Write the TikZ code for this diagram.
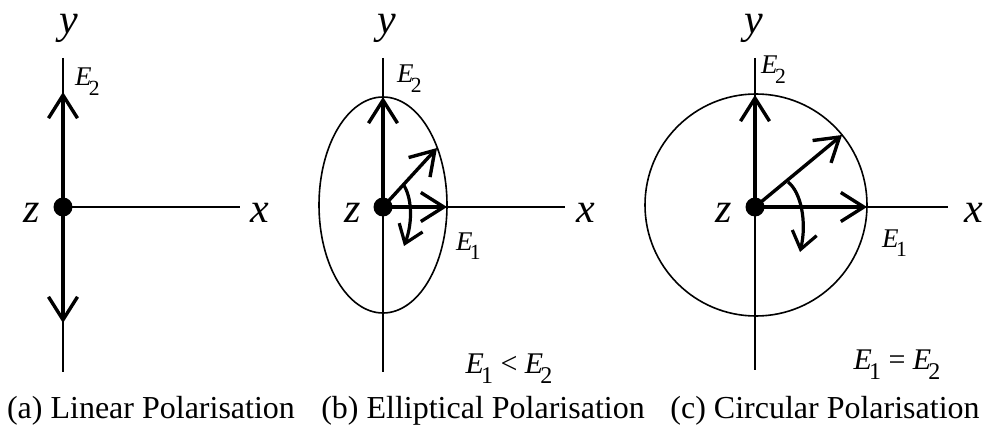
\documentclass[tikz,border=0pt]{standalone}
\usepackage{fontspec}
\setmainfont{Liberation Serif}
\usetikzlibrary{arrows.meta}
\newcommand\Ev[1]{\textit{E}\kern-0.1em\raisebox{-0.34em}{\scalebox{0.8}{#1}}}
\tikzset{
  axis/.style={line width=1.6pt},
  curveline/.style={line width=1.6pt},
  vec/.style={line width=3.4pt, -{Straight Barb[length=23pt,width=29pt,line width=3.4pt]}},
  rot/.style={line width=3.2pt, -{Straight Barb[length=17pt,width=25pt,line width=3.2pt]}},
  dot/.style={circle, fill=black, inner sep=0pt, minimum size=19pt},
  axlbl/.style={inner sep=0pt, anchor=base, text height=0.46em, text depth=0.22em, font=\fontsize{42}{42}\selectfont},
  elbl/.style={inner sep=0pt, anchor=base west, font=\fontsize{27}{27}\selectfont},
  rel/.style={inner sep=0pt, anchor=base, font=\fontsize{30}{30}\selectfont},
  captxt/.style={inner sep=0pt, anchor=base, font=\fontsize{32}{32}\selectfont}
}
\begin{document}
\begin{tikzpicture}[x=1pt,y=-1pt]
\useasboundingbox (0,0) rectangle (990,433);
% ---------- (a) ----------
\coordinate (a-top) at (63,58);
\coordinate (a-bot) at (63,372);
\coordinate (a-xr) at (240,207);
\coordinate (a-up) at (63,92);
\coordinate (a-dn) at (63,323);
\draw[axis] (a-top) -- (a-bot);
\node[dot] (oa) at (63,207) {};
\draw[axis] (oa.center) -- (a-xr);
\draw[vec] (oa.center) -- (a-up);
\draw[vec] (oa.center) -- (a-dn);
\node[axlbl] (a-ylab) at (69,34) {\textit{y}};
\node[axlbl] (a-xlab) at (260,222) {\textit{x}};
\node[axlbl] (a-zlab) at (32,222) {\textit{z}};
\node[elbl] (a-e2) at (75,86) {\Ev{2}};
\node[captxt] (a-cap) at (151,418) {(a) Linear Polarisation};
% ---------- (b) ----------
\coordinate (b-top) at (383,58);
\coordinate (b-bot) at (383,372);
\coordinate (b-xr) at (565,207);
\coordinate (b-up) at (383,97);
\coordinate (b-rt) at (447,207);
\coordinate (b-dg) at (437,148);
\coordinate (b-r0) at (403,184);
\coordinate (b-r1) at (404,246);
\draw[axis] (b-top) -- (b-bot);
\draw[curveline] (383,205) ellipse [x radius=64, y radius=108];
\node[dot] (ob) at (383,207) {};
\draw[axis] (ob.center) -- (b-xr);
\draw[vec] (ob.center) -- (b-up);
\draw[vec] (ob.center) -- (b-rt);
\draw[vec] (ob.center) -- (b-dg);
\draw[rot] (b-r0) .. controls (412,197) and (413,222) .. (b-r1);
\node[axlbl] (b-ylab) at (387,34) {\textit{y}};
\node[axlbl] (b-xlab) at (586,222) {\textit{x}};
\node[axlbl] (b-zlab) at (353,222) {\textit{z}};
\node[elbl] (b-e2) at (397,83) {\Ev{2}};
\node[elbl] (b-e1) at (456,250) {\Ev{1}};
\node[rel] (b-rel) at (509,373) {\Ev{1} < \Ev{2}};
\node[captxt] (b-cap) at (483,418) {(b) Elliptical Polarisation};
% ---------- (c) ----------
\coordinate (c-top) at (755,58);
\coordinate (c-bot) at (755,370);
\coordinate (c-xr) at (948,207);
\coordinate (c-up) at (755,95);
\coordinate (c-rt) at (867,207);
\coordinate (c-dg) at (842,135);
\coordinate (c-r0) at (788,182);
\coordinate (c-r1) at (800,252);
\draw[axis] (c-top) -- (c-bot);
\draw[curveline] (756,205) circle [radius=111];
\node[dot] (oc) at (755,207) {};
\draw[axis] (oc.center) -- (c-xr);
\draw[vec] (oc.center) -- (c-up);
\draw[vec] (oc.center) -- (c-rt);
\draw[vec] (oc.center) -- (c-dg);
\draw[rot] (c-r0) .. controls (801,192) and (807,222) .. (c-r1);
\node[axlbl] (c-ylab) at (754,34) {\textit{y}};
\node[axlbl] (c-xlab) at (974,222) {\textit{x}};
\node[axlbl] (c-zlab) at (724,222) {\textit{z}};
\node[elbl] (c-e2) at (761,74) {\Ev{2}};
\node[elbl] (c-e1) at (882,247) {\Ev{1}};
\node[rel] (c-rel) at (897,369) {\Ev{1} = \Ev{2}};
\node[captxt] (c-cap) at (825,418) {(c) Circular Polarisation};
\end{tikzpicture}
\end{document}
